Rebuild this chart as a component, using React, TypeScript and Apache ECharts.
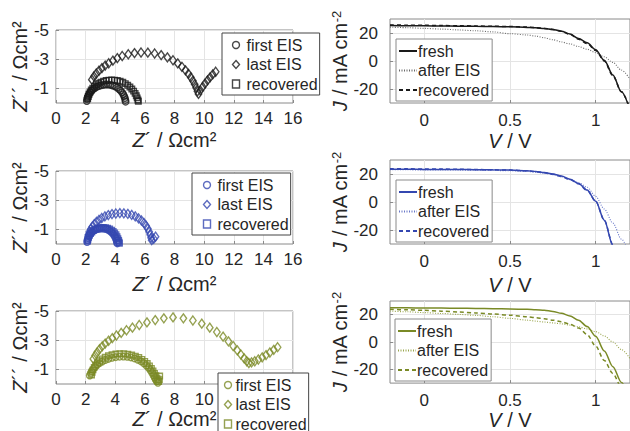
import React, { useEffect, useRef } from 'react';
import * as echarts from 'echarts';

// ---------- EIS data (Z', Z'') ----------
const EIS1_FIRST: number[][] = [[2.08,-0.14],[2.10,-0.26],[2.13,-0.38],[2.18,-0.50],[2.24,-0.62],[2.31,-0.73],[2.40,-0.84],[2.50,-0.94],[2.62,-1.03],[2.75,-1.10],[2.89,-1.16],[3.04,-1.21],[3.20,-1.24],[3.36,-1.26],[3.52,-1.26],[3.68,-1.24],[3.83,-1.20],[3.98,-1.14],[4.12,-1.06],[4.25,-0.96],[4.36,-0.85],[4.46,-0.73],[4.54,-0.60],[4.60,-0.47],[4.65,-0.34],[4.68,-0.21],[4.70,-0.09]];
const EIS1_LAST: number[][] = [[2.42,-1.60],[2.56,-1.82],[2.72,-2.02],[2.90,-2.21],[3.10,-2.39],[3.32,-2.56],[3.56,-2.72],[3.84,-2.90],[4.14,-3.07],[4.47,-3.22],[4.88,-3.34],[5.30,-3.42],[5.74,-3.46],[6.20,-3.45],[6.66,-3.39],[7.10,-3.28],[7.52,-3.12],[7.90,-2.93],[8.22,-2.71],[8.50,-2.48],[8.74,-2.24],[8.94,-2.00],[9.10,-1.76],[9.24,-1.52],[9.36,-1.28],[9.46,-1.04],[9.55,-0.80],[9.62,-0.62],[9.74,-0.86],[9.90,-1.10],[10.06,-1.33],[10.23,-1.55],[10.40,-1.76],[10.58,-1.96],[10.78,-2.14]];
const EIS1_REC: number[][] = [[2.14,-0.30],[2.18,-0.45],[2.23,-0.60],[2.30,-0.75],[2.38,-0.89],[2.48,-1.02],[2.60,-1.14],[2.73,-1.25],[2.88,-1.35],[3.04,-1.43],[3.21,-1.50],[3.39,-1.54],[3.57,-1.57],[3.76,-1.58],[3.95,-1.57],[4.14,-1.54],[4.33,-1.49],[4.51,-1.42],[4.68,-1.33],[4.84,-1.22],[4.99,-1.10],[5.12,-0.96],[5.24,-0.81],[5.34,-0.66],[5.42,-0.50],[5.48,-0.35],[5.53,-0.21],[5.56,-0.12]];

const EIS2_FIRST: number[][] = [[2.10,-0.14],[2.12,-0.27],[2.16,-0.40],[2.21,-0.52],[2.28,-0.64],[2.36,-0.75],[2.46,-0.85],[2.57,-0.93],[2.69,-0.99],[2.82,-1.03],[2.96,-1.05],[3.10,-1.06],[3.24,-1.05],[3.38,-1.02],[3.51,-0.97],[3.63,-0.90],[3.74,-0.81],[3.84,-0.71],[3.92,-0.60],[3.99,-0.48],[4.05,-0.36],[4.09,-0.24],[4.12,-0.12],[4.14,-0.04]];
const EIS2_LAST: number[][] = [[2.18,-0.62],[2.25,-0.82],[2.34,-1.01],[2.45,-1.19],[2.58,-1.36],[2.73,-1.51],[2.90,-1.65],[3.09,-1.78],[3.30,-1.89],[3.53,-1.98],[3.78,-2.05],[4.04,-2.09],[4.31,-2.11],[4.58,-2.10],[4.85,-2.06],[5.11,-1.99],[5.35,-1.89],[5.57,-1.76],[5.77,-1.61],[5.94,-1.44],[6.08,-1.25],[6.20,-1.05],[6.29,-0.84],[6.36,-0.63],[6.42,-0.42],[6.46,-0.26],[6.60,-0.36],[6.72,-0.50]];
const EIS2_REC: number[][] = [[2.13,-0.20],[2.16,-0.33],[2.20,-0.46],[2.26,-0.59],[2.33,-0.71],[2.42,-0.82],[2.52,-0.92],[2.63,-1.00],[2.76,-1.06],[2.90,-1.10],[3.04,-1.12],[3.19,-1.13],[3.34,-1.11],[3.48,-1.08],[3.62,-1.03],[3.75,-0.95],[3.86,-0.86],[3.96,-0.75],[4.05,-0.63],[4.12,-0.50],[4.18,-0.37],[4.23,-0.24],[4.26,-0.12],[4.28,-0.05]];

const EIS3_FIRST: number[][] = [[2.28,-0.58],[2.34,-0.74],[2.42,-0.89],[2.52,-1.04],[2.64,-1.18],[2.78,-1.31],[2.94,-1.43],[3.12,-1.54],[3.32,-1.64],[3.54,-1.72],[3.78,-1.79],[4.03,-1.84],[4.29,-1.87],[4.55,-1.88],[4.81,-1.86],[5.06,-1.82],[5.30,-1.75],[5.53,-1.66],[5.74,-1.55],[5.93,-1.42],[6.10,-1.27],[6.25,-1.11],[6.38,-0.94],[6.49,-0.77],[6.58,-0.60],[6.66,-0.44],[6.73,-0.30],[6.80,-0.18],[6.88,-0.08]];
const EIS3_LAST: number[][] = [[2.52,-1.72],[2.64,-1.95],[2.78,-2.17],[2.94,-2.38],[3.12,-2.58],[3.32,-2.77],[3.55,-2.96],[3.80,-3.14],[4.08,-3.32],[4.40,-3.50],[4.76,-3.68],[5.16,-3.86],[5.62,-4.04],[6.14,-4.22],[6.70,-4.38],[7.28,-4.50],[7.90,-4.56],[8.60,-4.50],[9.24,-4.35],[9.84,-4.13],[10.38,-3.86],[10.86,-3.56],[11.28,-3.24],[11.64,-2.92],[11.96,-2.60],[12.24,-2.30],[12.48,-2.02],[12.70,-1.76],[12.88,-1.56],[13.02,-1.44],[13.20,-1.48],[13.42,-1.56],[13.66,-1.68],[13.92,-1.82],[14.18,-1.98],[14.44,-2.16],[14.70,-2.34],[14.96,-2.52]];
const EIS3_REC: number[][] = [[2.40,-0.62],[2.44,-0.80],[2.50,-0.97],[2.58,-1.14],[2.68,-1.30],[2.80,-1.45],[2.95,-1.59],[3.12,-1.72],[3.32,-1.83],[3.54,-1.93],[3.78,-2.00],[4.04,-2.05],[4.31,-2.07],[4.58,-2.07],[4.85,-2.04],[5.11,-1.99],[5.36,-1.91],[5.59,-1.81],[5.80,-1.69],[5.99,-1.55],[6.16,-1.40],[6.31,-1.24],[6.44,-1.07],[6.55,-0.90],[6.65,-0.73],[6.74,-0.56],[6.82,-0.40],[6.88,-0.27],[6.93,-0.17],[6.98,-0.30],[7.00,-0.55]];

// ---------- J–V data ----------
const V_VALUES = [-0.2,-0.1,0,0.1,0.2,0.3,0.4,0.5,0.6,0.65,0.7,0.75,0.8,0.85,0.9,0.95,1.0,1.05,1.1,1.15,1.2];
const JV1_FRESH = [25.3,25.2,25.1,25.0,24.9,24.8,24.6,24.4,24.0,23.7,23.2,22.5,21.3,19.3,16.0,13.0,8.0,0.5,-10.0,-22.0,-35.0];
const JV1_AFTER = [24.2,23.8,23.3,22.8,22.2,21.6,20.8,19.5,18.6,17.8,16.6,15.2,13.6,12.2,10.4,8.4,6.0,3.0,-1.0,-6.5,-13.0];
const JV1_REC = [25.8,25.6,25.5,25.3,25.2,25.0,24.8,24.6,24.2,23.8,23.3,22.5,21.2,19.0,15.6,12.5,7.5,0.0,-10.5,-22.0,-34.0];
const JV2_FRESH = [23.4,23.4,23.3,23.3,23.2,23.1,23.0,22.8,22.3,21.8,21.0,20.0,18.5,16.3,13.3,8.5,0.5,-13.0,-31.0,-48.0,-66.0];
const JV2_AFTER = [23.0,23.0,22.9,22.9,22.8,22.7,22.5,22.3,21.8,21.3,20.5,19.5,18.0,16.0,13.8,10.5,4.0,-5.0,-15.0,-26.5,-38.0];
const JV2_REC = [23.8,23.7,23.6,23.5,23.4,23.2,23.0,22.8,22.3,21.7,20.9,19.8,18.2,16.0,13.0,8.2,0.5,-13.0,-30.5,-48.0,-66.0];
const JV3_FRESH = [25.1,25.0,24.9,24.8,24.7,24.6,24.4,24.2,23.9,23.6,23.2,22.4,21.0,19.0,16.0,11.3,4.2,-6.5,-18.0,-29.5,-43.0];
const JV3_AFTER = [22.7,22.1,21.5,20.9,20.2,19.5,18.5,17.3,16.0,15.3,14.6,14.0,13.3,12.4,11.2,9.6,7.6,4.5,0.0,-5.5,-12.0];
const JV3_REC = [23.9,23.6,23.2,22.6,22.0,21.3,20.5,19.6,18.5,17.8,17.0,16.0,14.8,13.0,10.3,5.5,-3.0,-13.5,-23.0,-33.0,-45.0];

const EIS_X_TICKS = [0, 16, 2]; // min, max, interval
const EIS_X_LABELS_BOTTOM = [0, 2, 4, 6, 8, 10]; // 12–16 are hidden behind the legend
const EIS_Y_TICKS = [-5, -3, -1];
const JV_X_TICKS = [0, 0.5, 1];
const JV_Y_TICKS = [-20, 0, 20];
const EIS_NAMES = ['first EIS', 'last EIS', 'recovered'];
const JV_NAMES = ['fresh', 'after EIS', 'recovered'];

const FONT = '"Liberation Sans", Arial, sans-serif';
const TEXT = '#262626';
const FRAME = '#8a8a8a';
const GRIDLINE = '#e4e4e4';

const ROWS = [
  { color: '#1a1a1a', light: '#6a6a6a', eis: [EIS1_FIRST, EIS1_LAST, EIS1_REC], jv: [JV1_FRESH, JV1_AFTER, JV1_REC],
    eTop: 30, eH: 73, jTop: 19, jH: 84, eLeg: [222, 33, [4, 2, 3, 8]], eTxtPad: 2, jLeg: [396, 39, [4, 3, 3, 2]], xGap: 27 },
  { color: '#3447b0', light: '#6877c8', eis: [EIS2_FIRST, EIS2_LAST, EIS2_REC], jv: [JV2_FRESH, JV2_AFTER, JV2_REC],
    eTop: 171, eH: 73, jTop: 160, jH: 84, eLeg: [192, 173, [4, 2, 3, 9]], eTxtPad: 2, jLeg: [396, 180, [4, 3, 3, 2]], xGap: 30 },
  { color: '#7a8a26', light: '#9aa64e', eis: [EIS3_FIRST, EIS3_LAST, EIS3_REC], jv: [JV3_FRESH, JV3_AFTER, JV3_REC],
    eTop: 311, eH: 73, jTop: 301, jH: 83, eLeg: [218, 373, [4, 2, 3, 4]], eTxtPad: -1, jLeg: [395, 319, [4, 3, 3, 2]], xGap: 25 },
];

const nameStyle = (size: number) => ({
  fontSize: size, color: TEXT, fontFamily: FONT,
  rich: {
    i: { fontStyle: 'italic', fontSize: size, color: TEXT, fontFamily: FONT },
    sup: { fontSize: 13, color: TEXT, fontFamily: FONT, verticalAlign: 'top' },
  },
});

function buildOption() {
  const grid: any[] = [];
  const xAxis: any[] = [];
  const yAxis: any[] = [];
  const series: any[] = [];
  const legend: any[] = [];
  const labelStyle = { color: TEXT, fontSize: 17, fontFamily: FONT };
  const markers = [
    { symbol: 'circle', size: 6.5 },
    { symbol: 'diamond', size: [6.5, 9] },
    { symbol: 'rect', size: 5.5 },
  ];
  const lineTypes: any[] = ['solid', [1, 1.5], [4, 3]];

  ROWS.forEach((r, ri) => {
    // EIS panel
    const gi = ri * 2;
    grid.push({ left: 56, width: 237, top: r.eTop, height: r.eH, show: true, borderColor: FRAME, borderWidth: 1 });
    const xLabel: any = { ...labelStyle, margin: 7 };
    if (ri === 2) xLabel.customValues = EIS_X_LABELS_BOTTOM;
    xAxis.push({
      type: 'value', gridIndex: gi, min: EIS_X_TICKS[0], max: EIS_X_TICKS[1], interval: EIS_X_TICKS[2],
      axisLine: { show: false, onZero: false },
      axisTick: { show: true, inside: true, length: 3, lineStyle: { color: FRAME } },
      axisLabel: xLabel,
      splitLine: { show: true, lineStyle: { color: GRIDLINE, width: 1 } },
      name: '{i|Z}´ / Ωcm²', nameLocation: 'middle', nameGap: r.xGap, nameTextStyle: nameStyle(20),
    });
    yAxis.push({
      type: 'value', gridIndex: gi, min: -5, max: 0, inverse: true,
      axisLine: { show: false, onZero: false },
      axisTick: { show: true, inside: true, length: 3, lineStyle: { color: FRAME }, customValues: EIS_Y_TICKS },
      axisLabel: { ...labelStyle, margin: 7, customValues: EIS_Y_TICKS },
      splitLine: { show: true, lineStyle: { color: GRIDLINE, width: 1 } },
      name: '{i|Z}´´ / Ωcm²', nameLocation: 'middle', nameGap: 22, nameTextStyle: nameStyle(20),
    });
    const eisSeriesNames: string[] = [];
    r.eis.forEach((pts, k) => {
      const nm = EIS_NAMES[k] + '#e' + ri;
      eisSeriesNames.push(nm);
      series.push({
        type: 'scatter', name: nm, xAxisIndex: gi, yAxisIndex: gi, data: pts,
        symbol: markers[k].symbol, symbolSize: markers[k].size,
        itemStyle: { color: 'none', borderColor: r.color, borderWidth: 1.4 },
        z: 3 - k,
      });
    });
    legend.push({
      left: r.eLeg[0], top: r.eLeg[1], padding: r.eLeg[2], orient: 'vertical', height: 120,
      data: eisSeriesNames, formatter: (n: string) => n.split('#')[0],
      selectedMode: false, backgroundColor: '#fff', borderColor: '#444', borderWidth: 1, borderRadius: 0,
      itemWidth: 7, itemHeight: 8, itemGap: 3.5,
      textStyle: { fontSize: 16, color: TEXT, fontFamily: FONT, padding: [0, 0, 0, r.eTxtPad] },
      itemStyle: { borderWidth: 1.4 },
      z: 10,
    });

    // JV panel
    const gj = ri * 2 + 1;
    grid.push({ left: 390, width: 247, top: r.jTop, height: r.jH, show: true, borderColor: FRAME, borderWidth: 1 });
    xAxis.push({
      type: 'value', gridIndex: gj, min: -0.2, max: 1.2,
      axisLine: { show: false, onZero: false },
      axisTick: { show: true, inside: true, length: 3, lineStyle: { color: FRAME }, customValues: JV_X_TICKS },
      axisLabel: { ...labelStyle, margin: 9, customValues: JV_X_TICKS },
      splitLine: { show: true, lineStyle: { color: GRIDLINE, width: 1 } },
      name: '{i|V} / V', nameLocation: 'middle', nameGap: r.xGap + 1, nameTextStyle: nameStyle(20),
    });
    yAxis.push({
      type: 'value', gridIndex: gj, min: -30, max: 30,
      axisLine: { show: false, onZero: false },
      axisTick: { show: true, inside: true, length: 3, lineStyle: { color: FRAME }, customValues: JV_Y_TICKS },
      axisLabel: { ...labelStyle, margin: 12, customValues: JV_Y_TICKS },
      splitLine: { show: true, lineStyle: { color: GRIDLINE, width: 1 } },
      name: '{i|J} / mA cm{sup|-2}', nameLocation: 'middle', nameGap: 29, nameTextStyle: nameStyle(20),
    });
    const jvSeriesNames: string[] = [];
    r.jv.forEach((js, k) => {
      const nm = JV_NAMES[k] + '#j' + ri;
      jvSeriesNames.push(nm);
      series.push({
        type: 'line', name: nm, xAxisIndex: gj, yAxisIndex: gj,
        data: V_VALUES.map((v, i) => [v, js[i]]),
        symbol: 'none', showSymbol: false, smooth: 0.3, smoothMonotone: 'x',
        lineStyle: { color: k === 1 ? r.light : r.color, width: k === 1 ? 1.1 : 1.5, type: lineTypes[k] },
        itemStyle: { color: k === 1 ? r.light : r.color },
        z: 3 - k,
      });
    });
    legend.push({
      left: r.jLeg[0], top: r.jLeg[1], padding: r.jLeg[2], orient: 'vertical', height: 120,
      data: jvSeriesNames, formatter: (n: string) => n.split('#')[0],
      selectedMode: false, backgroundColor: '#fff', borderColor: '#8a8a8a', borderWidth: 1, borderRadius: 0,
      itemWidth: 18, itemHeight: 10, itemGap: 3.5,
      itemStyle: { opacity: 0 },
      textStyle: { fontSize: 16, color: TEXT, fontFamily: FONT, padding: [0, 0, 0, -4] },
      z: 10,
    });
  });

  return {
    animation: false,
    backgroundColor: '#fff',
    textStyle: { fontFamily: FONT },
    grid, xAxis, yAxis, series, legend,
  };
}

export default function App() {
  const ref = useRef<HTMLDivElement>(null);
  useEffect(() => {
    document.body.style.margin = '0';
    if (!ref.current) return;
    const chart = echarts.init(ref.current, undefined, { renderer: 'svg' });
    chart.setOption(buildOption() as any);
    return () => chart.dispose();
  }, []);
  return <div ref={ref} style={{ position: 'absolute', left: 0, top: 0, width: 630, height: 431 }} />;
}
